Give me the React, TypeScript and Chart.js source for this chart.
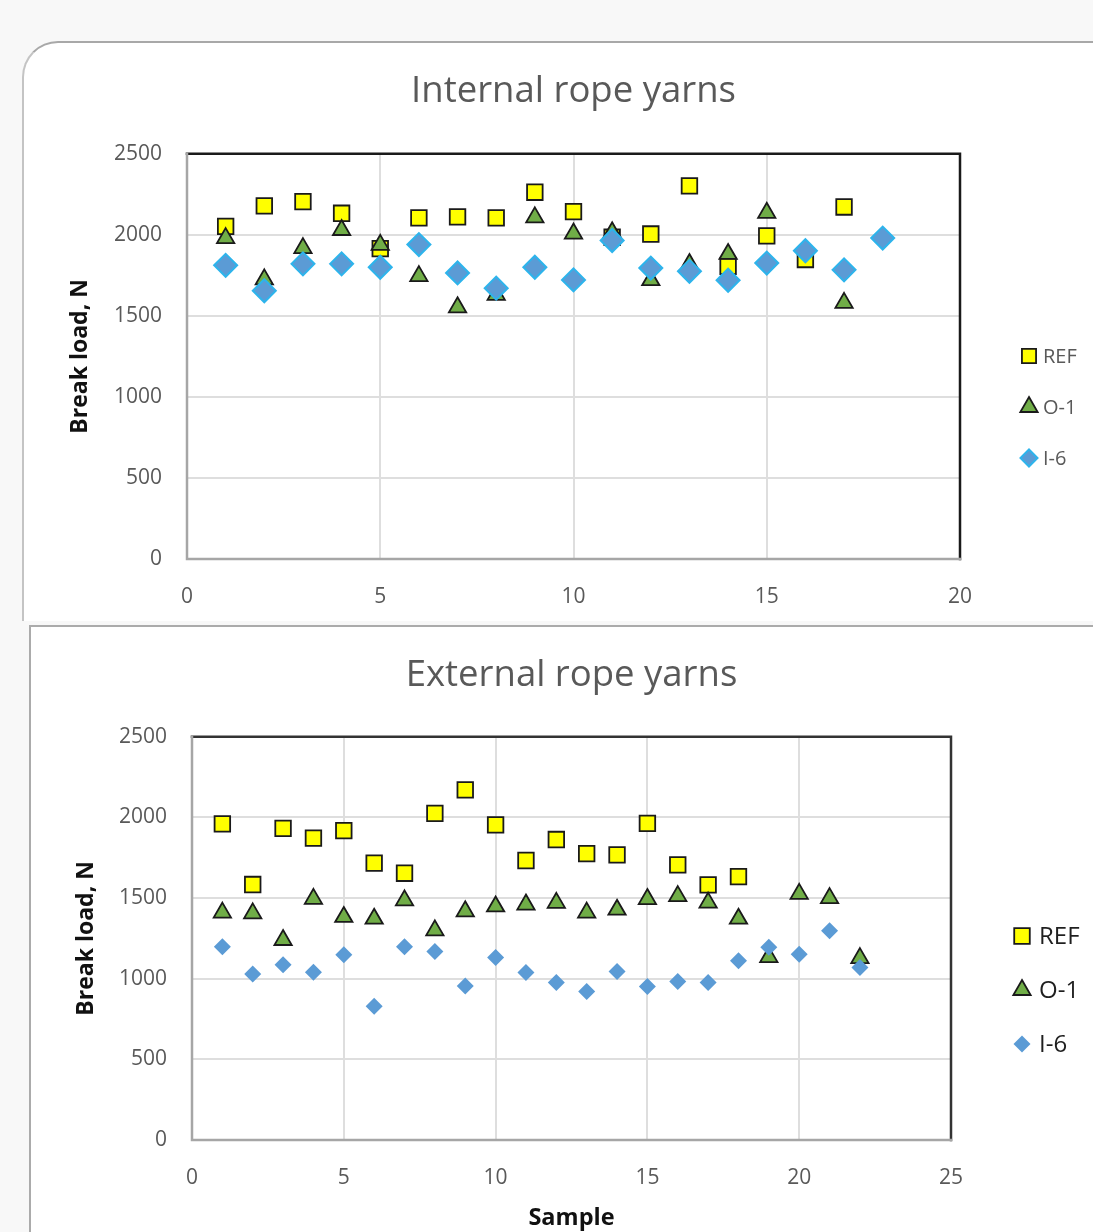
import React, { useEffect, useRef } from 'react';
import { Chart, registerables } from 'chart.js';
import { drawPoint } from 'chart.js/helpers';

Chart.register(...registerables);

// ---------- Data: Internal rope yarns ----------
const internalSamples = [1, 2, 3, 4, 5, 6, 7, 8, 9, 10, 11, 12, 13, 14, 15, 16, 17, 18];
const internalREF = [2052, 2179, 2205, 2133, 1915, 2105, 2111, 2105, 2263, 2143, 1985, 2005, 2302, 1806, 1994, 1848, 2172, null];
const internalO1 = [1980, 1725, 1918, 2030, 1938, 1745, 1553, 1630, 2108, 2008, 2016, 1720, 1820, 1882, 2136, null, 1580, null];
const internalI6 = [1812, 1655, 1821, 1821, 1800, 1940, 1765, 1671, 1800, 1722, 1965, 1795, 1775, 1720, 1826, 1902, 1784, 1980];

// ---------- Data: External rope yarns ----------
const externalSamples = [1, 2, 3, 4, 5, 6, 7, 8, 9, 10, 11, 12, 13, 14, 15, 16, 17, 18, 19, 20, 21, 22];
const externalREF = [1960, 1584, 1932, 1872, 1918, 1717, 1654, 2025, 2171, 1954, 1733, 1863, 1776, 1768, 1963, 1706, 1582, 1633, null, null, null, null];
const externalO1 = [1410, 1405, 1240, 1495, 1383, 1372, 1486, 1300, 1418, 1448, 1460, 1470, 1410, 1428, 1494, 1512, 1472, 1372, 1134, 1526, 1500, 1128];
const externalI6 = [1199, 1030, 1086, 1040, 1148, 829, 1199, 1168, 955, 1131, 1038, 976, 920, 1045, 951, 982, 976, 1112, 1195, 1152, 1297, 1070];

const yTicks = [0, 500, 1000, 1500, 2000, 2500];

const FONT = "'Open Sans', 'DejaVu Sans', sans-serif";

function toPoints(xs: number[], ys: (number | null)[]) {
  const pts: { x: number; y: number }[] = [];
  xs.forEach((x, i) => {
    const v = ys[i];
    if (v !== null && v !== undefined) pts.push({ x, y: v });
  });
  return pts;
}

const frameAndLegend = {
  id: 'frameAndLegend',
  beforeDatasetsDraw(chart: any, _a: any, opts: any) {
    const { ctx, chartArea } = chart;
    const { left, right, top, bottom } = chartArea;
    ctx.save();
    ctx.lineCap = 'square';
    ctx.strokeStyle = opts.frameColor;
    ctx.lineWidth = opts.frameWidth;
    ctx.beginPath();
    ctx.moveTo(left, top);
    ctx.lineTo(right, top);
    ctx.lineTo(right, bottom);
    ctx.stroke();
    ctx.strokeStyle = opts.axisColor;
    ctx.lineWidth = opts.axisWidth;
    ctx.beginPath();
    ctx.moveTo(left, top);
    ctx.lineTo(left, bottom);
    ctx.lineTo(right, bottom);
    ctx.stroke();
    ctx.restore();
  },
  afterDraw(chart: any, _a: any, opts: any) {
    const ctx = chart.ctx;
    ctx.save();
    chart.data.datasets.forEach((ds: any, i: number) => {
      const y = opts.y0 + i * opts.gap;
      ctx.fillStyle = ds.backgroundColor;
      ctx.strokeStyle = ds.borderColor;
      ctx.lineWidth = ds.borderWidth;
      drawPoint(ctx, { pointStyle: ds.pointStyle, radius: opts.radii[i], rotation: 0, borderWidth: ds.borderWidth }, opts.markerX, y);
      ctx.fillStyle = opts.textColor;
      ctx.font = `${opts.fontSize}px ${FONT}`;
      ctx.textAlign = 'left';
      ctx.textBaseline = 'middle';
      ctx.fillText(ds.label, opts.textX, y + 1);
    });
    ctx.restore();
  },
};

interface ChartSpec {
  width: number;
  height: number;
  title: string;
  xMax: number;
  xs: number[];
  ref: (number | null)[];
  o1: (number | null)[];
  i6: (number | null)[];
  yAxisWidth: number;
  xAxisHeight: number;
  rightPad: number;
  titlePadTop: number;
  titlePadBottom: number;
  yTitlePad: number;
  showXTitle: boolean;
  diamondRadius: number;
  diamondBorder: number;
  diamondBorderColor: string;
  legend: any;
  frameColor: string;
}

function ScatterPanel({ spec }: { spec: ChartSpec }) {
  const ref = useRef<HTMLCanvasElement | null>(null);
  useEffect(() => {
    if (!ref.current) return;
    const chart = new Chart(ref.current, {
      type: 'scatter',
      data: {
        datasets: [
          {
            label: 'REF',
            data: toPoints(spec.xs, spec.ref),
            pointStyle: 'rect',
            pointRadius: 11,
            backgroundColor: '#FFFF00',
            borderColor: '#1a1a1a',
            borderWidth: 1.8,
            order: 2,
          },
          {
            label: 'O-1',
            data: toPoints(spec.xs, spec.o1),
            pointStyle: 'triangle',
            pointRadius: 10,
            backgroundColor: '#70AD47',
            borderColor: '#1a1a1a',
            borderWidth: 1.8,
            order: 1,
          },
          {
            label: 'I-6',
            data: toPoints(spec.xs, spec.i6),
            pointStyle: 'rectRot',
            pointRadius: spec.diamondRadius,
            backgroundColor: '#5B9BD5',
            borderColor: spec.diamondBorderColor,
            borderWidth: spec.diamondBorder,
            order: 0,
          },
        ] as any,
      },
      options: {
        responsive: false,
        animation: false,
        events: [],
        layout: { padding: { left: 0, right: spec.rightPad, top: 0, bottom: 0 } },
        plugins: {
          legend: { display: false },
          tooltip: { enabled: false },
          title: {
            display: true,
            text: spec.title,
            fullSize: false,
            color: '#595959',
            font: { family: FONT, size: 36.5, weight: 'normal' },
            padding: { top: spec.titlePadTop, bottom: spec.titlePadBottom },
          },
          frameAndLegend: { ...spec.legend, frameColor: spec.frameColor, frameWidth: 2.5, axisColor: '#a6a6a6', axisWidth: 2.5 },
        } as any,
        scales: {
          x: {
            type: 'linear',
            min: 0,
            max: spec.xMax,
            afterFit: (axis: any) => { axis.height = spec.xAxisHeight; },
            grid: { color: '#dedede', lineWidth: 2, drawTicks: false },
            border: { display: false },
            ticks: {
              stepSize: 5,
              padding: 25,
              color: '#595959',
              font: { family: FONT, size: 21 },
              maxRotation: 0,
              autoSkip: false,
              callback: (v: any) => String(v),
            },
            title: {
              display: spec.showXTitle,
              text: 'Sample',
              color: '#111',
              font: { family: FONT, size: 23.5, weight: 'bold' },
              padding: { top: 0, bottom: 0 },
            },
          },
          y: {
            type: 'linear',
            min: 0,
            max: 2500,
            afterFit: (axis: any) => { axis.width = spec.yAxisWidth; },
            afterBuildTicks: (axis: any) => { axis.ticks = yTicks.map((v) => ({ value: v })); },
            grid: { color: '#dedede', lineWidth: 2, drawTicks: false },
            border: { display: false },
            ticks: {
              padding: 25,
              color: '#595959',
              font: { family: FONT, size: 21 },
              callback: (v: any) => String(v),
            },
            title: {
              display: true,
              text: 'Break load, N',
              color: '#111',
              font: { family: FONT, size: 23, weight: 'bold' },
              padding: { top: spec.yTitlePad, bottom: 0 },
            },
          },
        },
      } as any,
      plugins: [frameAndLegend],
    });
    return () => chart.destroy();
  }, [spec]);
  return <canvas ref={ref} width={spec.width} height={spec.height} style={{ width: spec.width, height: spec.height, display: 'block' }} />;
}

const topSpec: ChartSpec = {
  width: 1069,
  height: 576,
  title: 'Internal rope yarns',
  xMax: 20,
  xs: internalSamples,
  ref: internalREF,
  o1: internalO1,
  i6: internalI6,
  yAxisWidth: 163,
  xAxisHeight: 61,
  rightPad: 133,
  titlePadTop: 26,
  titlePadBottom: 40,
  yTitlePad: 43,
  showXTitle: false,
  diamondRadius: 11.5,
  diamondBorder: 2,
  diamondBorderColor: '#2DB4EC',
  legend: { markerX: 1005, textX: 1019, y0: 312, gap: 51, radii: [10, 10, 8.5], fontSize: 20, textColor: '#595959' },
  frameColor: '#1a1a1a',
};

const bottomSpec: ChartSpec = {
  width: 1061,
  height: 604,
  title: 'External rope yarns',
  xMax: 25,
  xs: externalSamples,
  ref: externalREF,
  o1: externalO1,
  i6: externalI6,
  yAxisWidth: 160,
  xAxisHeight: 92,
  rightPad: 142,
  titlePadTop: 26,
  titlePadBottom: 39,
  yTitlePad: 41,
  showXTitle: true,
  diamondRadius: 8.5,
  diamondBorder: 0,
  diamondBorderColor: '#5B9BD5',
  legend: { markerX: 990, textX: 1007, y0: 308, gap: 54, radii: [11, 10, 8.5], fontSize: 24, textColor: '#1f1f1f' },
  frameColor: '#333333',
};

export default function App() {
  return (
    <div style={{ position: 'absolute', left: 0, top: 0, width: 1093, height: 1232, background: '#f8f8f8', overflow: 'hidden' }}>
      <div
        style={{
          position: 'absolute',
          left: 22,
          top: 41,
          width: 1100,
          height: 580,
          background: '#ffffff',
          borderTop: '2px solid #a8a8a8',
          borderLeft: '2px solid #c4c4c4',
          borderTopLeftRadius: 36,
          boxSizing: 'border-box',
        }}
      />
      <div
        style={{
          position: 'absolute',
          left: 29,
          top: 625,
          width: 1100,
          height: 700,
          background: '#ffffff',
          borderTop: '2px solid #ababab',
          borderLeft: '2px solid #ababab',
          boxSizing: 'border-box',
        }}
      />
      <div style={{ position: 'absolute', left: 24, top: 44 }}>
        <ScatterPanel spec={topSpec} />
      </div>
      <div style={{ position: 'absolute', left: 32, top: 628 }}>
        <ScatterPanel spec={bottomSpec} />
      </div>
    </div>
  );
}
